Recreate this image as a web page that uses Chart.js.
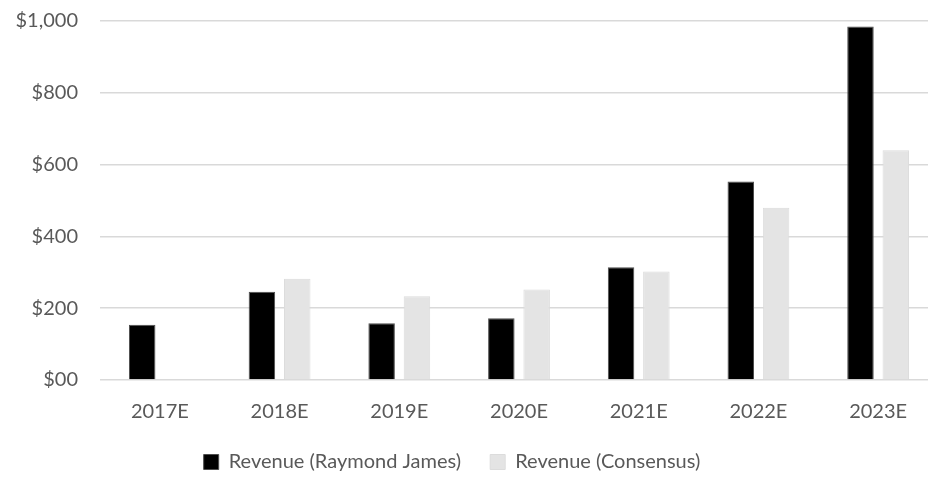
<!DOCTYPE html>
<html>
<head>
<meta charset="utf-8">
<script src="https://cdn.jsdelivr.net/npm/chart.js@4.4.1/dist/chart.umd.min.js"></script>
<style>
  html, body { margin: 0; padding: 0; background: #ffffff; overflow: hidden; }
  #wrap { position: relative; width: 938px; height: 479px; }
</style>
</head>
<body>
<div id="wrap"><canvas id="chart-revenue"></canvas></div>
<script>
// Revenue estimates, $ millions
const years = ['2017E', '2018E', '2019E', '2020E', '2021E', '2022E', '2023E'];
const revenueRaymondJames = [154, 246, 158, 172, 314, 553, 985];
const revenueConsensus = [null, 282, 233, 252, 302, 480, 640];
const yTickLabels = ['$00', '$200', '$400', '$600', '$800', '$1,000'];

const textColor = '#595959';
const gridColor = '#d9d9d9';

Chart.defaults.font.family = 'Lato, "Open Sans", sans-serif';
Chart.defaults.font.size = 20;
Chart.defaults.color = textColor;

// nudge the legend a bit left of the canvas centre
const legendShift = {
  id: 'legendShift',
  afterLayout(chart) {
    const lg = chart.legend;
    if (lg) {
      lg.left -= 17;
      lg.right -= 17;
    }
  }
};

const ctx = document.getElementById('chart-revenue').getContext('2d');

const revenueChart = new Chart(ctx, {
  type: 'bar',
  data: {
    labels: years,
    datasets: [
      {
        label: 'Revenue (Raymond James)',
        data: revenueRaymondJames,
        backgroundColor: '#000000',
        borderColor: '#4d4d4d',
        borderWidth: 1
      },
      {
        label: 'Revenue (Consensus)',
        data: revenueConsensus,
        backgroundColor: '#e4e4e4',
        borderColor: '#dcdcdc',
        borderWidth: 1
      }
    ]
  },
  options: {
    responsive: true,
    maintainAspectRatio: false,
    animation: false,
    layout: {
      padding: { top: 0, right: 0, bottom: -3, left: 0 }
    },
    datasets: {
      bar: {
        categoryPercentage: 0.59,
        barPercentage: 0.75
      }
    },
    plugins: {
      tooltip: { enabled: false },
      legend: {
        position: 'bottom',
        labels: {
          boxWidth: 15,
          boxHeight: 15,
          padding: 24,
          color: textColor,
          font: { size: 20 },
          // widen the gap after the first entry
          generateLabels: (chart) => {
            const items = Chart.defaults.plugins.legend.labels.generateLabels(chart);
            items[0].text += '\u00a0';
            return items;
          }
        }
      }
    },
    scales: {
      x: {
        afterFit: (scale) => { scale.height = 48; },
        grid: { display: false, drawTicks: false },
        border: { display: false },
        ticks: { padding: 20, color: textColor }
      },
      y: {
        min: 0,
        max: 1000,
        afterFit: (scale) => {
          scale.width = 100;
          scale.paddingTop = 21;
          scale.paddingBottom = 0;
        },
        grid: { color: gridColor, lineWidth: 1.5, drawTicks: false },
        border: { display: false },
        ticks: {
          stepSize: 200,
          padding: 22,
          color: textColor,
          callback: (value, index) => yTickLabels[index]
        }
      }
    }
  },
  plugins: [legendShift]
});
</script>
</body>
</html>
